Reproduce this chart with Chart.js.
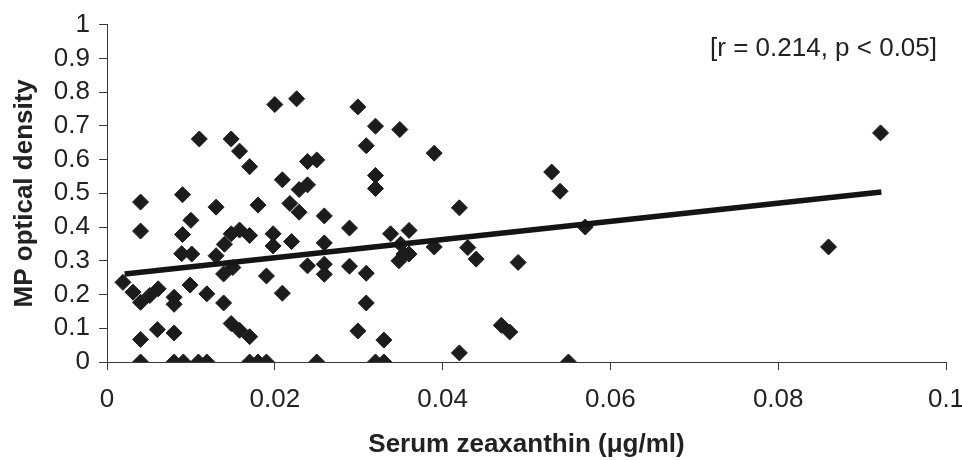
<!DOCTYPE html>
<html>
<head>
<meta charset="utf-8">
<script src="https://cdn.jsdelivr.net/npm/chart.js@4.4.1/dist/chart.umd.min.js"></script>
<style>
  html, body { margin: 0; padding: 0; background: #fff; }
  canvas { display: block; }
</style>
</head>
<body>
<canvas id="chart" width="962" height="460"></canvas>
<script>
// serum zeaxanthin (ug/ml) vs MP optical density, one entry per subject
var zeaxanthin = [
    0.0019, 0.0031, 0.0040, 0.0051, 0.0061, 0.0040, 0.0040, 0.0040, 0.0060, 0.0080,
    0.0080, 0.0080, 0.0090, 0.0100, 0.0090, 0.0089, 0.0101, 0.0099, 0.0119, 0.0110,
    0.0130, 0.0130, 0.0140, 0.0139, 0.0139, 0.0150, 0.0148, 0.0158, 0.0170, 0.0180,
    0.0148, 0.0158, 0.0170, 0.0148, 0.0158, 0.0170, 0.0198, 0.0198, 0.0190, 0.0200,
    0.0226, 0.0209, 0.0209, 0.0220, 0.0218, 0.0229, 0.0229, 0.0239, 0.0239, 0.0250,
    0.0259, 0.0259, 0.0239, 0.0259, 0.0259, 0.0289, 0.0289, 0.0299, 0.0320, 0.0349,
    0.0309, 0.0390, 0.0320, 0.0320, 0.0309, 0.0309, 0.0299, 0.0330, 0.0338, 0.0360,
    0.0350, 0.0354, 0.0348, 0.0360, 0.0390, 0.0420, 0.0430, 0.0440, 0.0420, 0.0470,
    0.0480, 0.0490, 0.0530, 0.0540, 0.0570, 0.0860, 0.0922,
    0.0040, 0.0080, 0.0091, 0.0109, 0.0119, 0.0170, 0.0180, 0.0190, 0.0250, 0.0320,
    0.0330, 0.0550
];
var mpod = [
    0.236, 0.207, 0.177, 0.197, 0.217, 0.474, 0.388, 0.067, 0.096, 0.086,
    0.192, 0.171, 0.496, 0.420, 0.378, 0.321, 0.320, 0.228, 0.202, 0.661,
    0.459, 0.315, 0.349, 0.175, 0.261, 0.280, 0.661, 0.625, 0.579, 0.465,
    0.380, 0.391, 0.375, 0.114, 0.094, 0.075, 0.380, 0.344, 0.255, 0.763,
    0.780, 0.540, 0.204, 0.357, 0.470, 0.444, 0.511, 0.525, 0.594, 0.599,
    0.433, 0.353, 0.285, 0.290, 0.260, 0.397, 0.284, 0.756, 0.699, 0.689,
    0.641, 0.619, 0.553, 0.514, 0.263, 0.175, 0.092, 0.065, 0.380, 0.390,
    0.349, 0.320, 0.300, 0.320, 0.341, 0.457, 0.339, 0.305, 0.027, 0.109,
    0.089, 0.295, 0.563, 0.506, 0.400, 0.341, 0.679,
    0, 0, 0, 0, 0, 0, 0, 0, 0, 0,
    0, 0
];

// trend line end points as drawn
var fitX = [0.0021, 0.0923];
var fitY = [0.261, 0.504];

var xTickLabels = ['0', '0.02', '0.04', '0.06', '0.08', '0.1'];
var yTickLabels = ['0', '0.1', '0.2', '0.3', '0.4', '0.5', '0.6', '0.7', '0.8', '0.9', '1'];
var statsText = '[r = 0.214, p < 0.05]';

var points = zeaxanthin.map(function (x, i) { return { x: x, y: mpod[i] }; });
var fit = fitX.map(function (x, i) { return { x: x, y: fitY[i] }; });

var ink = '#1c1c1c';
var axisColor = '#3a3a3a';
var font = 'Liberation Sans, Arial, sans-serif';

var statsLabel = {
    id: 'statsLabel',
    afterDraw: function (chart) {
        var ctx = chart.ctx;
        var area = chart.chartArea;
        ctx.save();
        ctx.font = '26px ' + font;
        ctx.fillStyle = '#222';
        ctx.textAlign = 'right';
        ctx.textBaseline = 'alphabetic';
        ctx.fillText(statsText, area.right - 9, area.top + 31);
        ctx.restore();
    }
};

var ctx = document.getElementById('chart').getContext('2d');
var chart = new Chart(ctx, {
    type: 'scatter',
    data: {
        datasets: [
            {
                type: 'line',
                label: 'fit',
                data: fit,
                borderColor: '#141414',
                borderWidth: 5.5,
                pointRadius: 0,
                fill: false
            },
            {
                label: 'subjects',
                data: points,
                pointStyle: 'rectRot',
                pointRadius: 8,
                backgroundColor: ink,
                borderColor: ink,
                borderWidth: 1
            }
        ]
    },
    plugins: [statsLabel],
    options: {
        responsive: false,
        animation: false,
        layout: { padding: { top: 22, right: 0, left: 0, bottom: 0 } },
        plugins: {
            legend: { display: false },
            tooltip: { enabled: false }
        },
        scales: {
            x: {
                type: 'linear',
                min: 0,
                max: 0.1,
                ticks: {
                    stepSize: 0.02,
                    padding: 14,
                    autoSkip: false,
                    color: '#222',
                    font: { family: font, size: 26 },
                    maxRotation: 0,
                    callback: function (v, i) { return xTickLabels[i]; }
                },
                grid: { drawOnChartArea: false, tickLength: 8, color: axisColor },
                border: { color: axisColor, width: 1 },
                title: {
                    display: true,
                    text: 'Serum zeaxanthin (μg/ml)',
                    color: '#222',
                    font: { family: font, size: 26, weight: 'bold' },
                    padding: { top: 0, bottom: 0 }
                },
                afterFit: function (scale) {
                    scale.height = 98;
                    scale.paddingRight = 16;
                }
            },
            y: {
                type: 'linear',
                min: 0,
                max: 1,
                ticks: {
                    stepSize: 0.1,
                    padding: 9,
                    autoSkip: false,
                    color: '#222',
                    font: { family: font, size: 26 },
                    callback: function (v, i) { return yTickLabels[i]; }
                },
                grid: { drawOnChartArea: false, tickLength: 8, color: axisColor },
                border: { color: axisColor, width: 1 },
                title: {
                    display: true,
                    text: 'MP optical density',
                    color: '#222',
                    font: { family: font, size: 26, weight: 'bold' },
                    padding: { top: 9, bottom: 0 }
                },
                afterFit: function (scale) { scale.width = 107; }
            }
        }
    }
});
</script>
</body>
</html>
